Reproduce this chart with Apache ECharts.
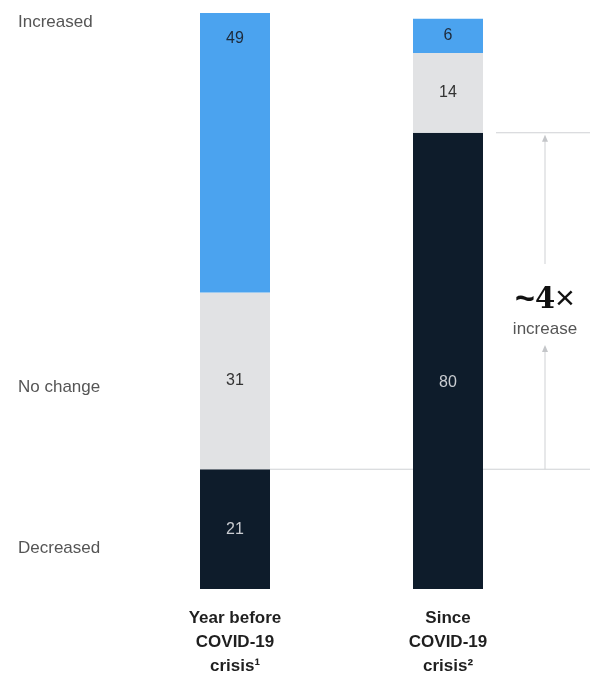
<!DOCTYPE html>
<html>
<head>
<meta charset="utf-8">
<script src="https://cdn.jsdelivr.net/npm/echarts@6/dist/echarts.min.js"></script>
<style>
  html, body { margin: 0; padding: 0; background: #fff; }
  #chart { width: 595px; height: 677px; }
</style>
</head>
<body>
<div id="chart"></div>
<script>
// Share of respondents, %, by period
const categories = ['Year before\nCOVID-19\ncrisis¹', 'Since\nCOVID-19\ncrisis²'];
const decreased = [21, 80];
const noChange = [31, 14];
const increased = [49, 6];
const rowLabels = ['Increased', 'No change', 'Decreased'];
const multipleText = '4';
const multipleNote = 'increase';

const FONT = '"Liberation Sans", Arial, sans-serif';
const BAR_W = 70;

const chart = echarts.init(document.getElementById('chart'), null, { renderer: 'canvas' });

function labelFor(color) {
  return { show: true, color: color, fontSize: 16, fontFamily: FONT, position: 'inside' };
}

const option = {
  animation: false,
  backgroundColor: '#ffffff',
  grid: { left: 128.5, right: 40.5, top: 13, bottom: 88, outerBoundsMode: 'none', containLabel: false },
  xAxis: {
    type: 'category',
    data: categories,
    axisLine: { show: false },
    axisTick: { show: false },
    axisLabel: {
      margin: 17,
      color: '#1f1f1f',
      fontFamily: FONT,
      fontSize: 17,
      fontWeight: 'bold',
      lineHeight: 24,
      interval: 0
    }
  },
  yAxis: {
    type: 'value',
    min: 0,
    max: 101,
    show: false,
    splitLine: { show: false }
  },
  series: [
    {
      name: 'Decreased',
      type: 'bar',
      stack: 'total',
      barWidth: BAR_W,
      itemStyle: { color: '#0e1c2b' },
      label: labelFor('#c9ccd1'),
      data: decreased.map((v, i) => i === 1
        ? { value: v, label: { offset: [0, 22] } }
        : v)
    },
    {
      name: 'No change',
      type: 'bar',
      stack: 'total',
      barWidth: BAR_W,
      itemStyle: { color: '#e1e2e4' },
      label: labelFor('#333333'),
      data: noChange
    },
    {
      name: 'Increased',
      type: 'bar',
      stack: 'total',
      barWidth: BAR_W,
      itemStyle: { color: '#4ba3ef' },
      label: labelFor('#1e2a3a'),
      data: increased.map((v, i) => i === 0
        ? { value: v, label: { position: 'insideTop', distance: 18 } }
        : v)
    }
  ]
};

chart.setOption(option);

// Annotation: the jump in the "Decreased" share between the two periods
function drawAnnotation() {
  const yLow = chart.convertToPixel({ gridIndex: 0 }, [0, decreased[0]])[1];
  const yHigh = chart.convertToPixel({ gridIndex: 0 }, [1, decreased[1]])[1];
  const c0 = chart.convertToPixel({ gridIndex: 0 }, [0, 0])[0];
  const c1 = chart.convertToPixel({ gridIndex: 0 }, [1, 0])[0];
  const ax = 545;
  const lineColor = '#cfd1d4';
  const rightEdge = 590;
  const midTop = 288;
  const midBottom = 345;

  const arrowHead = (tipY) => ({
    type: 'polygon',
    shape: { points: [[ax, tipY], [ax - 3, tipY + 7], [ax + 3, tipY + 7]] },
    style: { fill: '#c4c6c9' }
  });

  chart.setOption({
    graphic: [
      { type: 'line', shape: { x1: c0 + BAR_W / 2, y1: yLow, x2: c1 - BAR_W / 2, y2: yLow },
        style: { stroke: lineColor, lineWidth: 1 } },
      { type: 'line', shape: { x1: c1 + BAR_W / 2, y1: yLow, x2: rightEdge, y2: yLow },
        style: { stroke: lineColor, lineWidth: 1 } },
      { type: 'line', shape: { x1: c1 + BAR_W / 2 + 13, y1: yHigh, x2: rightEdge, y2: yHigh },
        style: { stroke: lineColor, lineWidth: 1 } },
      { type: 'line', shape: { x1: ax, y1: yHigh + 4, x2: ax, y2: midTop - 24 },
        style: { stroke: lineColor, lineWidth: 1 } },
      arrowHead(yHigh + 2),
      { type: 'line', shape: { x1: ax, y1: midBottom + 2, x2: ax, y2: yLow },
        style: { stroke: lineColor, lineWidth: 1 } },
      arrowHead(midBottom),
      {
        type: 'text',
        x: ax, y: 300,
        style: {
          text: '{t|~}{n|' + multipleText + '}{x|×}',
          align: 'center', verticalAlign: 'middle',
          rich: {
            t: { fontFamily: FONT, fontWeight: 'bold', fontSize: 34, fill: '#111' },
            n: { fontFamily: 'DejaVu Serif', fontWeight: 'bold', fontSize: 29, fill: '#111' },
            x: { fontFamily: FONT, fontSize: 34, fill: '#111' }
          }
        }
      },
      {
        type: 'text',
        x: ax, y: 329,
        style: {
          text: multipleNote, align: 'center', verticalAlign: 'middle',
          fontFamily: FONT, fontSize: 17, fill: '#555'
        }
      },
      // Row captions on the left
      { type: 'text', x: 18, y: 22, style: { text: rowLabels[0], verticalAlign: 'middle', fontFamily: FONT, fontSize: 17, fill: '#555' } },
      { type: 'text', x: 18, y: 387, style: { text: rowLabels[1], verticalAlign: 'middle', fontFamily: FONT, fontSize: 17, fill: '#555' } },
      { type: 'text', x: 18, y: 548, style: { text: rowLabels[2], verticalAlign: 'middle', fontFamily: FONT, fontSize: 17, fill: '#555' } }
    ]
  });
}
drawAnnotation();
</script>
</body>
</html>
